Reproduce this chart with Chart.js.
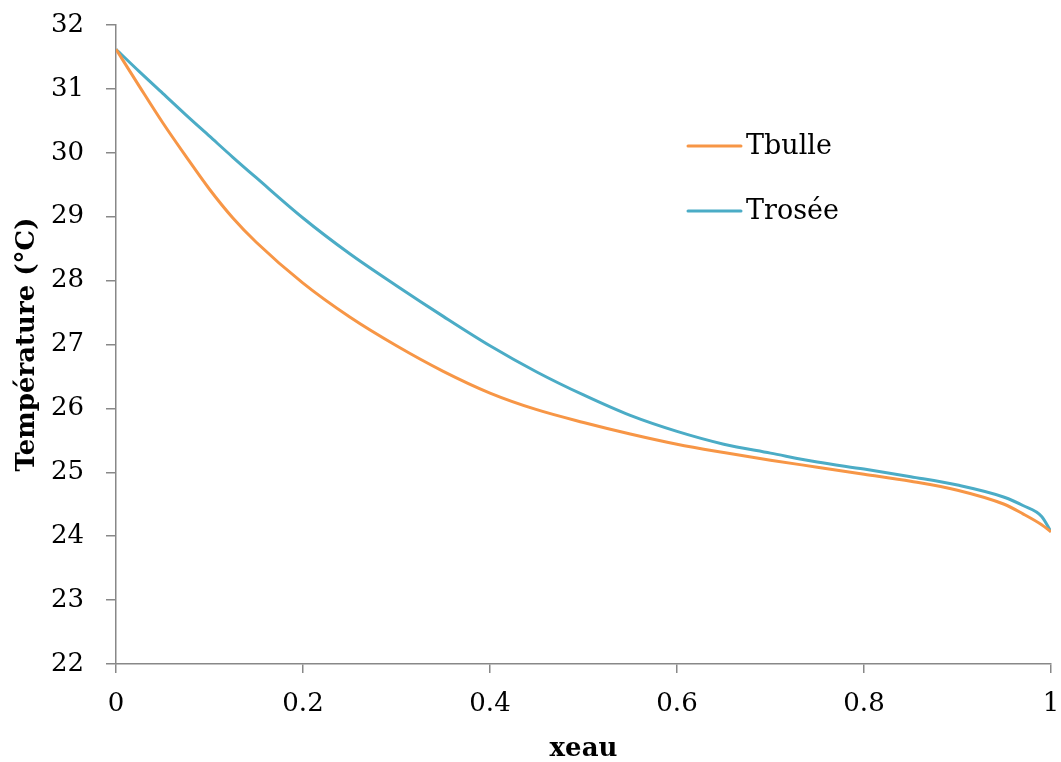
<!DOCTYPE html>
<html>
<head>
<meta charset="utf-8">
<script src="https://cdn.jsdelivr.net/npm/chart.js@4.4.0/dist/chart.umd.min.js"></script>
<style>
  html, body { margin: 0; padding: 0; background: #fff; }
  #wrap { width: 1061px; height: 762px; }
</style>
</head>
<body>
<div id="wrap"><canvas id="chart" width="1061" height="762"></canvas></div>
<script>
// values
let xeau = [0, 0.025, 0.05, 0.075, 0.1, 0.125, 0.15, 0.2, 0.25, 0.3, 0.35, 0.4, 0.45, 0.5,
            0.55, 0.6, 0.65, 0.7, 0.75, 0.8, 0.85, 0.9, 0.95, 0.97, 0.99, 1];
let tBulle = [31.62, 31.04, 30.47, 29.94, 29.43, 28.98, 28.60, 27.96, 27.43, 26.98, 26.58, 26.24, 25.98, 25.78,
              25.60, 25.44, 25.31, 25.19, 25.08, 24.97, 24.86, 24.72, 24.50, 24.35, 24.18, 24.07];
let tRosee = [31.62, 31.27, 30.93, 30.59, 30.26, 29.93, 29.61, 28.98, 28.42, 27.92, 27.44, 26.98, 26.57, 26.21,
              25.89, 25.64, 25.44, 25.30, 25.16, 25.05, 24.93, 24.80, 24.61, 24.48, 24.31, 24.07];
let seriesNames = ["Tbulle", "Trosée"];
let seriesColors = ["#F79646", "#4BACC6"];

const serif = "'DejaVu Serif', 'Liberation Serif', serif";
const axisGrey = "#888888";

function toPoints(values) {
    return xeau.map((x, i) => ({ x: x, y: values[i] }));
}

// small legend drawn inside the plot, like the original
const insideLegend = {
    id: "insideLegend",
    afterDraw(chart) {
        const ctx = chart.ctx;
        const x0 = 688, lineLen = 53, rowY = [146, 211];
        ctx.save();
        chart.data.datasets.forEach((ds, i) => {
            ctx.strokeStyle = ds.borderColor;
            ctx.lineWidth = 3;
            ctx.lineCap = "round";
            ctx.beginPath();
            ctx.moveTo(x0, rowY[i]);
            ctx.lineTo(x0 + lineLen, rowY[i]);
            ctx.stroke();
            ctx.fillStyle = "#000";
            ctx.font = "27px " + serif;
            ctx.textBaseline = "middle";
            ctx.fillText(ds.label, x0 + lineLen + 5, rowY[i] + 1);
        });
        ctx.restore();
    }
};

new Chart(document.getElementById("chart").getContext("2d"), {
    type: "line",
    data: {
        datasets: [
            {
                label: seriesNames[0],
                data: toPoints(tBulle),
                borderColor: seriesColors[0],
                borderWidth: 3,
                pointRadius: 0,
                cubicInterpolationMode: "monotone",
                fill: false
            },
            {
                label: seriesNames[1],
                data: toPoints(tRosee),
                borderColor: seriesColors[1],
                borderWidth: 3,
                pointRadius: 0,
                cubicInterpolationMode: "monotone",
                fill: false
            }
        ]
    },
    options: {
        responsive: false,
        animation: false,
        layout: { padding: { top: 25, right: 10, left: 0, bottom: 0 } },
        plugins: {
            legend: { display: false },
            tooltip: { enabled: false }
        },
        scales: {
            x: {
                type: "linear",
                min: 0,
                max: 1,
                ticks: {
                    stepSize: 0.2,
                    color: "#000",
                    font: { family: serif, size: 26 },
                    padding: 16,
                    callback: v => String(Math.round(v * 10) / 10)
                },
                grid: {
                    drawOnChartArea: false,
                    drawTicks: true,
                    tickLength: 9,
                    color: axisGrey,
                    lineWidth: 1.5
                },
                border: { color: axisGrey, width: 1.5 },
                title: {
                    display: true,
                    text: "xeau",
                    color: "#000",
                    font: { family: serif, size: 26, weight: "bold", lineHeight: 1 },
                    padding: { top: 0, bottom: 0 }
                },
                afterFit: scale => {
                    scale.height = 98;
                    scale.paddingLeft = 0;
                    scale.paddingRight = 0;
                }
            },
            y: {
                min: 22,
                max: 32,
                ticks: {
                    stepSize: 1,
                    color: "#000",
                    font: { family: serif, size: 26 },
                    padding: 22
                },
                grid: {
                    drawOnChartArea: false,
                    drawTicks: true,
                    tickLength: 10,
                    color: axisGrey,
                    lineWidth: 1.5
                },
                border: { color: axisGrey, width: 1.5 },
                title: {
                    display: true,
                    text: "Température (°C)",
                    color: "#000",
                    font: { family: serif, size: 26, weight: "bold" },
                    padding: { top: 12, bottom: 0 }
                },
                afterFit: scale => {
                    scale.width = 116;
                    scale.paddingTop = 0;
                    scale.paddingBottom = 0;
                }
            }
        }
    },
    plugins: [insideLegend]
});
</script>
</body>
</html>
